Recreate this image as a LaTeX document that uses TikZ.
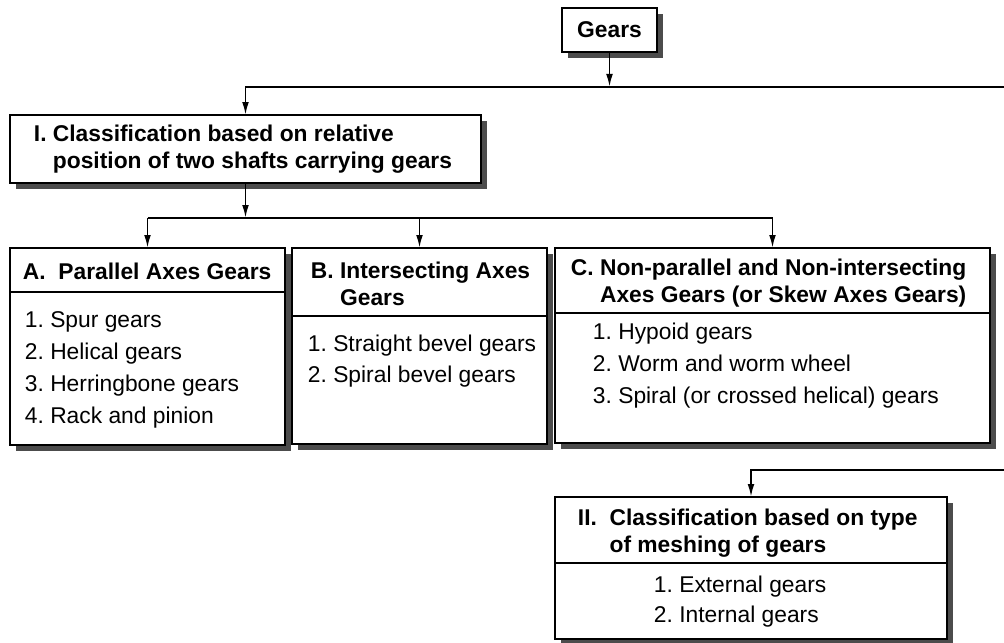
\documentclass[tikz,border=0pt]{standalone}
\usepackage{fontspec}
\setmainfont{Liberation Sans}
\frenchspacing
\usetikzlibrary{arrows.meta,shadows}

\begin{document}
\begin{tikzpicture}[%
    x=0.5pt, y=-0.5pt,                 % pixel-like units, y grows downwards
    >={Latex[length=6.5pt,width=3.4pt]}, % slim filled arrow heads
    line width=0.95pt,                 % default linetype for the connectors
    ]
% -------------------------------------------------
% A few box styles
% every box is pinned at its top left corner and given its size in px
\tikzset{
  box/.style={draw, line width=1.2pt, fill=white, inner sep=0pt, outer sep=0pt,
    anchor=north west,
    drop shadow={shadow xshift=3pt, shadow yshift=-3pt, fill=black!70, opacity=1}},
  px/.style 2 args={minimum width=#1*0.5pt, minimum height=#2*0.5pt},
  head/.style={font=\fontsize{11.4}{13.5}\selectfont\bfseries, align=left,
    anchor=west, inner sep=0pt},
  item/.style={font=\fontsize{11.4}{16}\selectfont, align=left,
    anchor=west, inner sep=0pt},
  rule/.style={draw, line width=1.1pt}
}
\useasboundingbox[fill=white] (0,0) rectangle (1004,642);
% -------------------------------------------------
% Start by placing the boxes
\node [box, px={95}{44}, font=\fontsize{11.4}{13.5}\selectfont\bfseries]
  (gears) at (562,8) {Gears};
\node [box, px={471}{68}] (I) at (10,115) {};
\node [box, px={275}{197}] (A) at (10,248) {};
\node [box, px={255}{196}] (B) at (292,248) {};
\node [box, px={435}{195}] (C) at (555,248) {};
\node [box, px={392}{142}] (II) at (555,497) {};

% header / list dividers
\draw [rule] (A.west |- 0,292) -- (A.east |- 0,292);
\draw [rule] (B.west |- 0,316) -- (B.east |- 0,316);
\draw [rule] (C.west |- 0,313) -- (C.east |- 0,313);
\draw [rule] (II.west |- 0,563) -- (II.east |- 0,563);

% -------------------------------------------------
% Headers
\node [head] (Ihead) at (33,149.5)
  {I. Classification based on relative\\\hphantom{I.\ }position of two shafts carrying gears};
\node [head] (Ahead) at (22,271) {A.\ \ Parallel Axes Gears};
\node [head] (Bhead) at (310,283.5)
  {B. Intersecting Axes\\\hphantom{B.\ }Gears};
\node [head] (Chead) at (570,283.5)
  {C. Non-parallel and Non-intersecting\\\hphantom{C.\ }Axes Gears (or Skew Axes Gears)};
\node [head] (IIhead) at (577,533.5)
  {II.\ \ Classification based on type\\\hphantom{II.\ \ }of meshing of gears};

% Lists
\node [item] (Alist) at (24,370)
  {1. Spur gears\\2. Helical gears\\3. Herringbone gears\\4. Rack and pinion};
\node [item, font=\fontsize{11.4}{15.5}\selectfont] (Blist) at (307,361.5)
  {1. Straight bevel gears\\2. Spiral bevel gears};
\node [item] (Clist) at (592,366)
  {1. Hypoid gears\\2. Worm and worm wheel\\3. Spiral (or crossed helical) gears};
\node [item, font=\fontsize{11.4}{15}\selectfont] (IIlist) at (653,602)
  {1. External gears\\2. Internal gears};

% -------------------------------------------------
% Connectors
\coordinate (bus1) at (1004,87);
\coordinate (bus2) at (0,218);
\coordinate (bus3) at (1004,470);

\draw [->] (gears.south) -- (gears.south |- bus1);
\draw [->] (bus1) -| (I.north);
\draw [->] (I.south) -- (I.south |- bus2);
\draw (bus2 -| A.north) -- (bus2 -| C.north);
\foreach \n in {A,B,C}
  \draw [->] (bus2 -| \n.north) -- (\n.north);
\draw [->] (bus3) -| (II.north);
% -------------------------------------------------
\end{tikzpicture}
\end{document}
